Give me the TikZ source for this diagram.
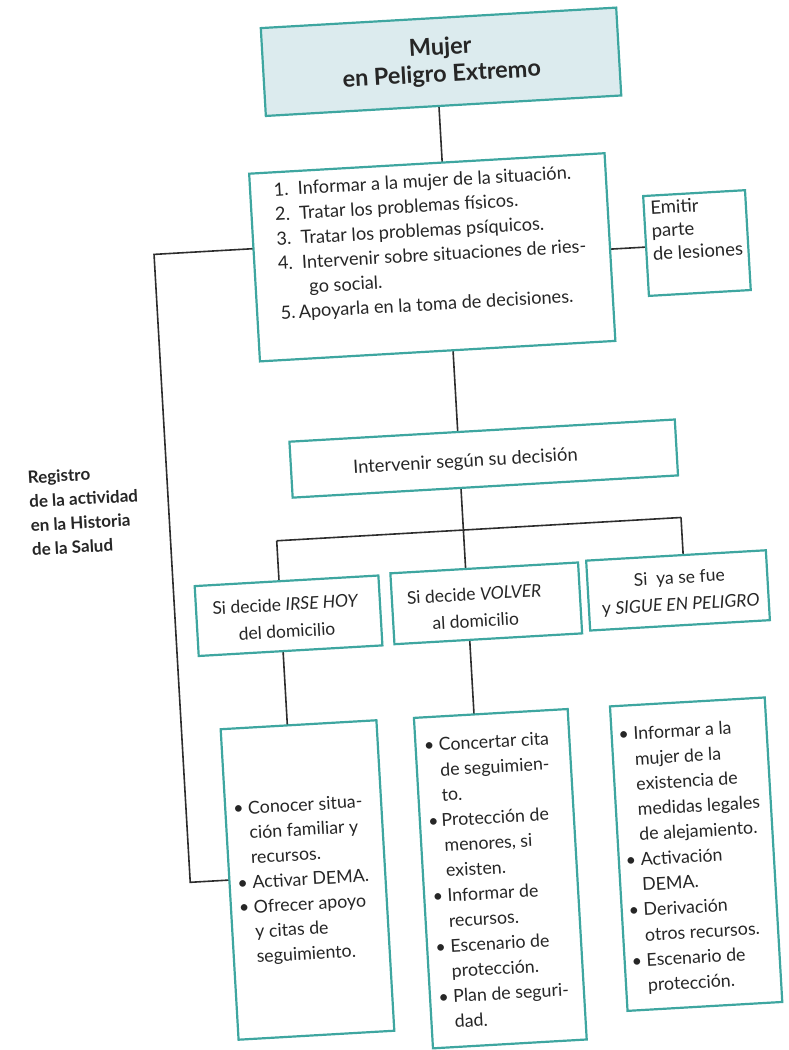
\documentclass[tikz,border=0pt]{standalone}
\usepackage{fontspec}
\setmainfont{Lato}
\definecolor{boxline}{RGB}{62,166,160}
\definecolor{topfill}{RGB}{220,235,238}
\definecolor{connc}{RGB}{45,45,45}
\newcommand\hind{\phantom{\textbullet\ }}
\begin{document}
\begin{tikzpicture}[x=1pt,y=-1pt,
  box/.style={draw=boxline, line width=2.2pt, fill=white, inner sep=0pt},
  conn/.style={draw=connc, line width=1.6pt},
  txt/.style={inner sep=0pt, align=left, anchor=north west, text=black!85},
  ctxt/.style={inner sep=0pt, align=center, text=black!85, font=\fontsize{17.5}{27}\selectfont},
]
\useasboundingbox (0,0) rectangle (789,1050);
\begin{scope}[rotate around={3.3:(394.5,525)}, transform shape]
  % junction coordinates
  \coordinate (trunkA) at (463,66);
  \coordinate (trunkB) at (463,760);
  \coordinate (busL) at (276,534);
  \coordinate (busR) at (681,534);
  \coordinate (dropL) at (276,760);
  \coordinate (dropR) at (681,600);
  \coordinate (loopA) at (300,241);
  \coordinate (loopB) at (170,241);
  \coordinate (loopC) at (170,870);
  \coordinate (loopD) at (250,870);
  \coordinate (emA) at (600,262);
  \coordinate (emB) at (700,262);
  % connectors (drawn under the boxes)
  \draw[conn] (trunkA) -- (trunkB);
  \draw[conn] (busL) -- (busR);
  \draw[conn] (busL) -- (dropL);
  \draw[conn] (busR) -- (dropR);
  \draw[conn] (loopA) -- (loopB) -- (loopC) -- (loopD);
  \draw[conn] (emA) -- (emB);
  % boxes
  \node[box, fill=topfill, minimum width=356pt, minimum height=88pt,
        font=\bfseries\fontsize{23.5}{27}\selectfont, align=center, text=black!85] (top) at (467.6,65.2) {Mujer\\en Peligro Extremo};
  \node[box, minimum width=356pt, minimum height=188pt] (list) at (447.6,259.9) {};
  \node[box, minimum width=102pt, minimum height=100pt] (emitir) at (712.7,260.9) {};
  \node[box, minimum width=386pt, minimum height=56pt] (interv) at (487.4,463.8) {};
  \node[box, minimum width=184pt, minimum height=70pt] (irse) at (283.5,609.5) {};
  \node[box, minimum width=188pt, minimum height=71pt] (volver) at (481.6,608.5) {};
  \node[box, minimum width=180pt, minimum height=70pt] (sigue) at (673.8,606.6) {};
  \node[box, minimum width=156pt, minimum height=311pt] (bl) at (287.2,874.4) {};
  \node[box, minimum width=154pt, minimum height=331pt] (bm) at (479.8,884.2) {};
  \node[box, minimum width=155pt, minimum height=305pt] (br) at (676.7,871) {};
  % texts
  \node[txt, font=\fontsize{18.2}{24.7}\selectfont] (listtxt) at (293,176)
    {1.\ \ Informar a la mujer de la situación.\\
     2.\ \ Tratar los problemas físicos.\\
     3.\ \ Tratar los problemas psíquicos.\\
     4.\ \ Intervenir sobre situaciones de ries-\\
     \hspace*{30pt}go social.\\
     5.\,Apoyarla en la toma de decisiones.};
  \node[txt, font=\fontsize{18.5}{23}\selectfont] (emitirtxt) at (668,216)
    {Emitir\\parte\\de lesiones};
  \node[ctxt, font=\fontsize{18.4}{27}\selectfont] (intervtxt) at (469,466) {Intervenir según su decisión};
  \node[ctxt] (irsetxt) at (281,611.5) {Si decide \textit{IRSE HOY}\\del domicilio};
  \node[ctxt] (volvertxt) at (470,612) {Si decide \textit{VOLVER}\\al domicilio};
  \node[ctxt] (siguetxt) at (675.7,608.3) {Si\ \ ya se fue\\y \textit{SIGUE EN PELIGRO}};
  \node[txt, font=\fontsize{17.8}{24.8}\selectfont] (bltxt) at (217,792)
    {\textbullet\ Conocer situa-\\\hind ción familiar y\\\hind recursos.\\
     \textbullet\ Activar DEMA.\\\textbullet\ Ofrecer apoyo\\\hind y citas de\\\hind seguimiento.};
  \node[txt, font=\fontsize{17.8}{25.2}\selectfont] (bmtxt) at (411,740)
    {\textbullet\ Concertar cita\\\hind de seguimien-\\\hind to.\\
     \textbullet\,Protección de\\\hind menores, si\\\hind existen.\\
     \textbullet\ Informar de\\\hind recursos.\\
     \textbullet\ Escenario de\\\hind protección.\\
     \textbullet\ Plan de seguri-\\\hind dad.};
  \node[txt, font=\fontsize{17.8}{25.2}\selectfont] (brtxt) at (606,740)
    {\textbullet\ Informar a la\\\hind mujer de la\\\hind existencia de\\\hind medidas legales\\\hind de alejamiento.\\
     \textbullet\ Activación\\\hind DEMA.\\
     \textbullet\ Derivación\\\hind otros recursos.\\
     \textbullet\ Escenario de\\\hind protección.};
  \node[txt, font=\bfseries\fontsize{17}{24}\selectfont] (registro) at (31,450)
    {Registro\\de la actividad\\en la Historia\\de la Salud};
\end{scope}
\end{tikzpicture}
\end{document}
